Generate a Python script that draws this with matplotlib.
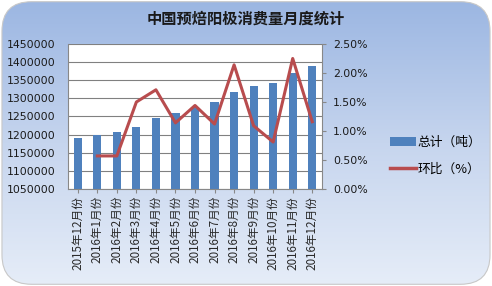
import matplotlib
matplotlib.use("Agg")
import matplotlib.pyplot as plt
import numpy as np
from matplotlib.patches import FancyBboxPatch
from matplotlib.colors import LinearSegmentedColormap
from matplotlib.lines import Line2D
from matplotlib.patches import Patch

plt.rcParams['font.family'] = ['Noto Sans CJK SC', 'DejaVu Sans']

title = "中国预焙阳极消费量月度统计"
categories = ["2015年12月份", "2016年1月份", "2016年2月份", "2016年3月份", "2016年4月份",
              "2016年5月份", "2016年6月份", "2016年7月份", "2016年8月份", "2016年9月份",
              "2016年10月份", "2016年11月份", "2016年12月份"]
totals = [1192000, 1199000, 1206000, 1222000, 1245000, 1259000, 1277000, 1290000,
          1318000, 1333000, 1343000, 1370000, 1390000]
mom = [np.nan, 0.57, 0.57, 1.50, 1.71, 1.14, 1.44, 1.12, 2.14, 1.09, 0.81, 2.25, 1.16]
series_names = ["总计（吨）", "环比（%）"]

fig = plt.figure(figsize=(4.92, 2.86), dpi=100)
fig.patch.set_facecolor("white")

# background with gradient and rounded frame
bg = fig.add_axes([0, 0, 1, 1])
bg.set_xlim(0, 1); bg.set_ylim(0, 1); bg.axis("off")
cmap = LinearSegmentedColormap.from_list("bg", ["#e6edf8", "#c6d5ee", "#9bb6e2"])
grad = np.linspace(0, 1, 256).reshape(-1, 1)
im = bg.imshow(grad, extent=[0, 1, 0, 1], origin="lower", cmap=cmap, aspect="auto", zorder=0)
frame = FancyBboxPatch((0.004, 0.006), 0.992, 0.988, boxstyle="round,pad=0,rounding_size=0.06",
                       transform=bg.transAxes, facecolor="none", edgecolor="#c8c8c8", lw=0.8,
                       mutation_aspect=492/286, zorder=1)
bg.add_patch(frame)
im.set_clip_path(frame)

ax = fig.add_axes([0.1382, 0.3392, 0.5163, 0.507])
ax.set_facecolor("white")
x = np.arange(len(categories))
ax.bar(x, totals, width=0.42, color="#4f81bd", zorder=2)
ax.set_ylim(1050000, 1450000)
ax.set_yticks(np.arange(1050000, 1450001, 50000))
ax.set_yticklabels([str(v) for v in range(1050000, 1450001, 50000)], fontsize=7.8, color="#1a1a1a",
                   family="DejaVu Sans")
ax.set_xlim(-0.5, len(categories) - 0.5)
ax.set_xticks(x)
ax.set_xticklabels(categories, rotation=90, fontsize=8.4, color="#2a2a2a")
ax.tick_params(axis="y", length=0, pad=9)
ax.tick_params(axis="x", length=3, color="#888888", pad=2)
ax.grid(axis="y", color="#808080", lw=0.8, zorder=1)
for s in ["top", "right"]:
    ax.spines[s].set_visible(False)
ax.spines["left"].set_color("#888888")
ax.spines["bottom"].set_color("#888888")

ax2 = ax.twinx()
ax2.plot(x, mom, color="#b84c4e", lw=2.2, zorder=3)
ax2.set_ylim(0, 2.5)
ax2.set_yticks(np.arange(0, 2.51, 0.5))
ax2.set_yticklabels(["%.2f%%" % v for v in np.arange(0, 2.51, 0.5)], fontsize=7.8, color="#1a1a1a",
                    family="DejaVu Sans")
ax2.tick_params(axis="y", length=3, color="#888888", pad=5)
for s in ["top", "left", "bottom"]:
    ax2.spines[s].set_visible(False)
ax2.spines["right"].set_color("#888888")

fig.text(0.5, 0.935, title, ha="center", va="center", fontsize=11, fontweight="bold", color="#1a1a1a")

handles = [Patch(facecolor="#4f81bd", edgecolor="none"),
           Line2D([0], [0], color="#b84c4e", lw=2.5)]
leg = fig.legend(handles, series_names, loc="center left", bbox_to_anchor=(0.77, 0.455),
                 frameon=False, fontsize=9.2, handlelength=2.0, handletextpad=0.15,
                 labelspacing=1.1, handleheight=0.7)

fig.savefig("out.png", dpi=100)
